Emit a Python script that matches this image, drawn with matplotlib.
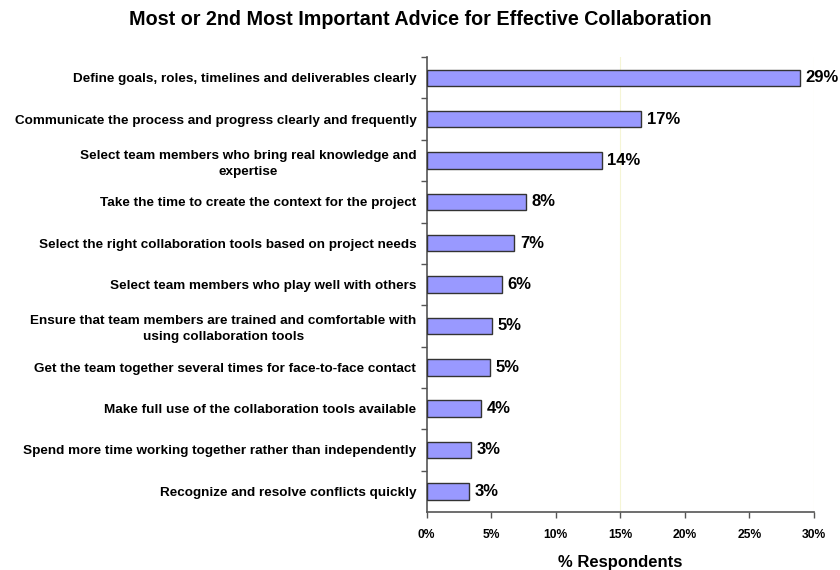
import matplotlib
matplotlib.use("Agg")
import matplotlib.pyplot as plt
from matplotlib.ticker import PercentFormatter

plt.rcParams["font.family"] = ["Liberation Sans", "DejaVu Sans"]
plt.rcParams["font.weight"] = "bold"

categories = [
    "Define goals, roles, timelines and deliverables clearly",
    "Communicate the process and progress clearly and frequently",
    "Select team members who bring real knowledge and\nexpertise",
    "Take the time to create the context for the project",
    "Select the right collaboration tools based on project needs",
    "Select team members who play well with others",
    "Ensure that team members are trained and comfortable with\nusing collaboration tools",
    "Get the team together several times for face-to-face contact",
    "Make full use of the collaboration tools available",
    "Spend more time working together rather than independently",
    "Recognize and resolve conflicts quickly",
]
respondents_pct = [28.9, 16.6, 13.55, 7.7, 6.8, 5.85, 5.08, 4.92, 4.2, 3.42, 3.25]
x_ticks = [0, 5, 10, 15, 20, 25, 30]

fig = plt.figure(figsize=(8.4, 5.7), dpi=100)
ax = fig.add_axes([0.508, 0.1018, 0.461, 0.798])

positions = list(range(len(categories)))
bars = ax.barh(positions, respondents_pct, height=0.4, color="#9999ff",
               edgecolor="#333333", linewidth=1.0, zorder=3)

for rect, val in zip(bars, respondents_pct):
    ax.annotate(f"{val:.0f}%", xy=(rect.get_width(), rect.get_y() + rect.get_height() / 2),
                xytext=(4, 0), textcoords="offset points", ha="left", va="center",
                fontsize=12, fontweight="bold", color="black")

ax.set_ylim(len(categories) - 0.5, -0.5)
ax.set_xlim(0, 30)
ax.set_xticks(x_ticks)
ax.xaxis.set_major_formatter(PercentFormatter(decimals=0))
ax.set_yticks(positions)
ax.set_yticklabels(categories, fontsize=9.7, fontweight="bold",
                   multialignment="center", linespacing=1.4)
ax.set_yticks([p + 0.5 for p in positions[:-1]] + [-0.5], minor=True)
ax.tick_params(axis="y", which="major", length=0, pad=7.5)
ax.tick_params(axis="y", which="minor", length=4, width=1, color="#555555", direction="out")
ax.tick_params(axis="x", length=4, width=1, color="#555555", direction="out", labelsize=8.7, pad=8)
for lbl in ax.get_xticklabels():
    lbl.set_fontweight("bold")

for gx in (15, 30):
    ax.axvline(gx, color="#f5f5d5", linewidth=0.8, zorder=1)

for side in ("top", "right"):
    ax.spines[side].set_visible(False)
for side in ("left", "bottom"):
    ax.spines[side].set_color("#555555")
    ax.spines[side].set_linewidth(1.2)

ax.set_xlabel("% Respondents", fontsize=12, fontweight="bold", labelpad=10)
fig.suptitle("Most or 2nd Most Important Advice for Effective Collaboration",
             x=0.5, y=0.982, fontsize=14.2, fontweight="bold")

fig.savefig("out.png", dpi=100)
